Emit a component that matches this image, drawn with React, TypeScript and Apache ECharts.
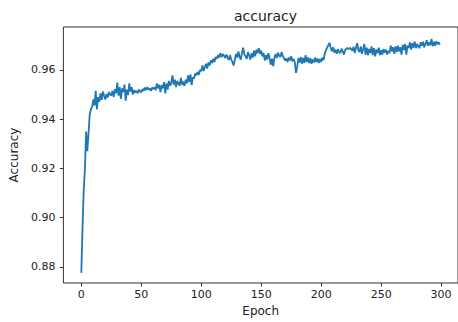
import React, { useEffect, useRef } from "react";
import * as echarts from "echarts";

const title = "accuracy";
const xName = "Epoch";
const yName = "Accuracy";

const xTicks = [0, 50, 100, 150, 200, 250, 300];
const yTicks = [0.88, 0.9, 0.92, 0.94, 0.96];

const accuracy = [
  0.8776, 0.8960, 0.9110, 0.9200, 0.9350, 0.9270, 0.9340, 0.9420, 0.9440, 0.9450,
  0.9480, 0.9455, 0.9515, 0.9440, 0.9490, 0.9470, 0.9505, 0.9478, 0.9512, 0.9495,
  0.9480, 0.9502, 0.9488, 0.9510, 0.9500, 0.9496, 0.9515, 0.9490, 0.9522, 0.9505,
  0.9548, 0.9495, 0.9530, 0.9482, 0.9525, 0.9510, 0.9540, 0.9475, 0.9520, 0.9498,
  0.9545, 0.9512, 0.9530, 0.9500, 0.9518, 0.9508, 0.9515, 0.9505, 0.9520, 0.9512,
  0.9510, 0.9522, 0.9515, 0.9528, 0.9518, 0.9530, 0.9520, 0.9525, 0.9515, 0.9528,
  0.9522, 0.9530, 0.9518, 0.9545, 0.9525, 0.9540, 0.9510, 0.9538, 0.9525, 0.9550,
  0.9505, 0.9545, 0.9520, 0.9555, 0.9535, 0.9548, 0.9578, 0.9540, 0.9560, 0.9530,
  0.9555, 0.9545, 0.9535, 0.9568, 0.9540, 0.9552, 0.9535, 0.9560, 0.9545, 0.9578,
  0.9550, 0.9582, 0.9538, 0.9570, 0.9565, 0.9585, 0.9578, 0.9592, 0.9580, 0.9600,
  0.9595, 0.9618, 0.9595, 0.9612, 0.9625, 0.9605, 0.9630, 0.9618, 0.9638, 0.9628,
  0.9645, 0.9632, 0.9652, 0.9645, 0.9660, 0.9650, 0.9668, 0.9652, 0.9664, 0.9658,
  0.9648, 0.9662, 0.9650, 0.9640, 0.9660, 0.9642, 0.9632, 0.9618, 0.9640, 0.9665,
  0.9650, 0.9675, 0.9652, 0.9642, 0.9670, 0.9690, 0.9662, 0.9655, 0.9645, 0.9672,
  0.9658, 0.9642, 0.9668, 0.9650, 0.9678, 0.9655, 0.9682, 0.9668, 0.9688, 0.9665,
  0.9678, 0.9655, 0.9668, 0.9638, 0.9660, 0.9642, 0.9668, 0.9648, 0.9620, 0.9645,
  0.9615, 0.9650, 0.9664, 0.9648, 0.9670, 0.9658, 0.9652, 0.9672, 0.9656, 0.9648,
  0.9638, 0.9646, 0.9632, 0.9650, 0.9638, 0.9655, 0.9635, 0.9644, 0.9632, 0.9588,
  0.9612, 0.9648, 0.9630, 0.9652, 0.9625, 0.9648, 0.9628, 0.9660, 0.9632, 0.9650,
  0.9628, 0.9647, 0.9625, 0.9642, 0.9630, 0.9650, 0.9632, 0.9646, 0.9628, 0.9644,
  0.9632, 0.9650, 0.9640, 0.9665, 0.9680, 0.9690, 0.9700, 0.9710, 0.9690, 0.9676,
  0.9692, 0.9670, 0.9682, 0.9665, 0.9684, 0.9672, 0.9668, 0.9686, 0.9676, 0.9662,
  0.9680, 0.9686, 0.9688, 0.9684, 0.9690, 0.9684, 0.9678, 0.9694, 0.9668, 0.9690,
  0.9708, 0.9680, 0.9672, 0.9695, 0.9665, 0.9685, 0.9705, 0.9662, 0.9690, 0.9660,
  0.9685, 0.9668, 0.9695, 0.9660, 0.9688, 0.9655, 0.9682, 0.9668, 0.9690, 0.9660,
  0.9680, 0.9662, 0.9685, 0.9670, 0.9682, 0.9662, 0.9678, 0.9668, 0.9698, 0.9675,
  0.9692, 0.9665, 0.9695, 0.9672, 0.9698, 0.9675, 0.9692, 0.9662, 0.9702, 0.9680,
  0.9705, 0.9662, 0.9698, 0.9688, 0.9712, 0.9682, 0.9708, 0.9690, 0.9715, 0.9688,
  0.9705, 0.9696, 0.9688, 0.9712, 0.9698, 0.9714, 0.9692, 0.9706, 0.9720, 0.9698,
  0.9712, 0.9700, 0.9726, 0.9696, 0.9714, 0.9698, 0.9716, 0.9704, 0.9712, 0.9702,
];

const X_MIN = -14.95;
const X_MAX = 314.1;
const Y_MIN = 0.8735;
const Y_MAX = 0.9774;

const FONT = "DejaVu Sans";
const TXT = "#222";

export default function App() {
  const ref = useRef<HTMLDivElement>(null);
  useEffect(() => {
    if (!ref.current) return;
    const chart = echarts.init(ref.current, undefined, { renderer: "svg" });
    const data = accuracy.map((v, i) => [i, v]);
    chart.setOption({
      animation: false,
      backgroundColor: "#ffffff",
      title: {
        text: title,
        left: 260.5,
        textAlign: "center",
        top: 4,
        textStyle: { fontFamily: FONT, fontSize: 14, fontWeight: "normal", color: TXT },
      },
      grid: {
        left: 62,
        top: 27,
        right: -1,
        bottom: 38,
        show: true,
        borderColor: "#333",
        borderWidth: 1,
        backgroundColor: "transparent",
      },
      xAxis: {
        type: "value",
        min: X_MIN,
        max: X_MAX,
        name: xName,
        nameLocation: "middle",
        nameGap: 22,
        nameTextStyle: { fontFamily: FONT, fontSize: 12, color: TXT },
        axisLine: { show: false, onZero: false },
        axisTick: {
          show: true,
          inside: false,
          length: 3.5,
          customValues: xTicks,
          lineStyle: { color: "#333", width: 1 },
        },
        axisLabel: {
          customValues: xTicks,
          margin: 6,
          fontFamily: FONT,
          fontSize: 11,
          color: TXT,
          formatter: (v: number) => String(v),
        },
        splitLine: { show: false },
      },
      yAxis: {
        type: "value",
        min: Y_MIN,
        max: Y_MAX,
        name: yName,
        nameLocation: "middle",
        nameGap: 41,
        nameRotate: 90,
        nameTextStyle: { fontFamily: FONT, fontSize: 12, color: TXT },
        axisLine: { show: false, onZero: false },
        axisTick: {
          show: true,
          inside: false,
          length: 3.5,
          customValues: yTicks,
          lineStyle: { color: "#333", width: 1 },
        },
        axisLabel: {
          customValues: yTicks,
          margin: 8,
          fontFamily: FONT,
          fontSize: 11,
          color: TXT,
          formatter: (v: number) => v.toFixed(2),
        },
        splitLine: { show: false },
      },
      series: [
        {
          type: "line",
          data,
          showSymbol: false,
          symbol: "none",
          lineStyle: { color: "#1f77b4", width: 1.8 },
          clip: true,
        },
      ],
    });
    return () => chart.dispose();
  }, []);
  return (
    <div
      ref={ref}
      style={{ position: "fixed", left: 0, top: 0, width: 458, height: 322 }}
    />
  );
}
